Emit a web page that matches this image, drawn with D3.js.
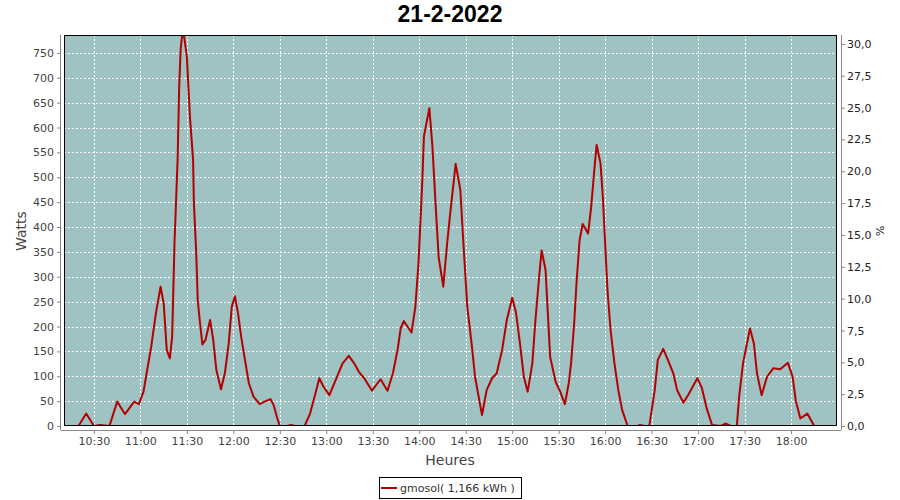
<!DOCTYPE html>
<html><head><meta charset="utf-8">
<script src="https://cdn.jsdelivr.net/npm/d3@7"></script>
<style>body{margin:0;background:#fff}svg{display:block}</style>
</head><body>
<svg id="c" width="900" height="500"></svg>
<script>
const title = "21-2-2022";
const seriesName = "gmosol( 1,166 kWh )";
const times = ["10:20:00","10:25:00","10:30:00","10:34:00","10:40:00","10:45:00","10:50:00","10:56:00","10:59:00","11:02:00",
"11:04:00","11:07:00","11:10:00","11:13:00","11:15:00","11:17:00","11:19:00","11:20:30","11:22:00","11:24:00",
"11:25:00","11:26:00","11:27:30","11:30:00","11:31:00","11:32:00","11:34:00","11:34:30","11:36:00","11:37:00",
"11:38:30","11:40:00","11:42:00","11:45:00","11:47:00","11:49:00","11:52:00","11:54:30","11:57:00","11:59:00",
"12:01:00","12:03:00","12:05:00","12:07:30","12:10:00","12:13:00","12:17:00","12:20:00","12:24:00","12:26:00",
"12:28:00","12:30:00","12:35:00","12:37:00","12:40:00","12:46:00","12:49:30","12:53:00","12:55:30","12:58:00",
"13:02:00","13:06:00","13:10:30","13:14:30","13:18:00","13:21:00","13:24:30","13:29:30","13:35:00","13:39:30",
"13:43:00","13:46:00","13:48:00","13:50:00","13:55:00","13:57:30","13:59:30","14:02:00","14:03:00","14:06:30",
"14:08:30","14:10:30","14:12:30","14:15:30","14:18:00","14:20:00","14:23:30","14:26:30","14:28:30","14:31:00",
"14:34:00","14:36:00","14:40:30","14:43:30","14:47:00","14:50:00","14:53:30","14:56:30","15:00:00","15:02:30",
"15:05:00","15:07:30","15:10:00","15:13:00","15:15:00","15:17:30","15:19:00","15:21:30","15:23:00","15:24:30",
"15:28:00","15:31:00","15:34:00","15:36:30","15:38:00","15:40:00","15:41:30","15:43:30","15:45:30","15:49:00",
"15:51:00","15:53:00","15:54:30","15:57:00","15:58:30","16:00:00","16:01:30","16:03:30","16:06:00","16:08:30",
"16:11:00","16:14:30","16:21:00","16:22:30","16:25:30","16:28:30","16:32:00","16:34:00","16:37:30","16:40:30",
"16:44:00","16:46:30","16:50:30","16:53:30","16:59:30","17:02:30","17:05:30","17:09:00","17:14:30","17:18:00",
"17:21:00","17:25:00","17:26:30","17:29:00","17:33:30","17:36:00","17:38:00","17:41:00","17:44:30","17:48:30",
"17:53:00","17:58:00","18:01:00","18:03:00","18:06:00","18:10:30","18:15:00","18:20:00"];
const watts = [0,25,0,2,0,49,24,49,44,69,
106,160,227,280,247,153,136,180,368,535,
679,759,800,742,680,620,535,450,350,253,
206,164,173,213,173,113,74,106,166,240,
261,227,180,133,86,59,44,49,54,42,
19,0,0,2,0,0,25,66,96,80,
62,92,126,141,126,109,96,71,94,71,
106,153,196,211,188,240,327,495,582,639,
562,448,340,280,367,428,527,475,367,240,
160,99,22,72,96,106,153,213,258,227,
166,99,69,126,213,304,353,314,227,139,
89,69,44,86,126,206,287,374,406,387,
441,515,565,528,461,367,273,193,126,72,
32,0,0,2,0,0,72,133,155,133,
106,72,47,62,96,76,36,2,0,5,
0,0,59,126,196,166,106,62,99,116,
114,127,99,52,15,25,0,0];
const xTickLabels = ["10:30","11:00","11:30","12:00","12:30","13:00","13:30","14:00","14:30","15:00","15:30","16:00","16:30","17:00","17:30","18:00"];
const wattTicks = [0,50,100,150,200,250,300,350,400,450,500,550,600,650,700,750];
const pctTicks = [0,2.5,5,7.5,10,12.5,15,17.5,20,22.5,25,27.5,30];

const W = 900, H = 500;
const m = {left:64, top:35, right:63, bottom:74};
const pw = W - m.left - m.right, ph = H - m.top - m.bottom;
const parse = d3.timeParse("%H:%M:%S");
const parseHM = d3.timeParse("%H:%M");
const data = times.map((t,i)=>({t:parse(t), v:watts[i]}));

const x = d3.scaleTime().domain([parse("10:10:40"), parse("18:29:40")]).range([m.left, m.left+pw]);
const y = d3.scaleLinear().domain([0, 786]).range([m.top+ph, m.top]);
const yr = d3.scaleLinear().domain([0, 30.7]).range([m.top+ph, m.top]);

const svg = d3.select("#c");
const F = "'DejaVu Sans', sans-serif";

svg.append("text").attr("x", 450).attr("y", 22).attr("text-anchor","middle")
  .attr("font-family","'Liberation Sans', Arial, sans-serif").attr("font-weight","bold").attr("font-size",23)
  .attr("fill","#000").text(title);

svg.append("rect").attr("x", m.left).attr("y", m.top).attr("width", pw).attr("height", ph).attr("fill", "#9EC3C2");

const xTicks = xTickLabels.map(s=>parseHM(s));
const g = svg.append("g");
g.selectAll("line.v").data(xTicks).join("line")
  .attr("x1", d=>Math.round(x(d))+0.5).attr("x2", d=>Math.round(x(d))+0.5)
  .attr("y1", m.top).attr("y2", m.top+ph)
  .attr("stroke","#fff").attr("stroke-width",1).attr("stroke-dasharray","2,2");
g.selectAll("line.h").data(wattTicks.filter(d=>d>0)).join("line")
  .attr("y1", d=>Math.round(y(d))+0.5).attr("y2", d=>Math.round(y(d))+0.5)
  .attr("x1", m.left).attr("x2", m.left+pw)
  .attr("stroke","#fff").attr("stroke-width",1).attr("stroke-dasharray","2,2");

svg.append("clipPath").attr("id","clip").append("rect")
  .attr("x", m.left).attr("y", m.top).attr("width", pw).attr("height", ph);

const line = d3.line().x(d=>x(d.t)).y(d=>y(d.v));
svg.append("path").datum(data).attr("d", line).attr("clip-path","url(#clip)")
  .attr("fill","none").attr("stroke","#B40000").attr("stroke-width",2).attr("stroke-linejoin","round");

svg.append("rect").attr("x", m.left+0.5).attr("y", m.top+0.5).attr("width", pw-1).attr("height", ph-1)
  .attr("fill","none").attr("stroke","#000").attr("stroke-width",1);

const ax = svg.append("g").attr("transform", `translate(0,${m.top+ph+4})`)
  .call(d3.axisBottom(x).tickValues(xTicks).tickFormat(d3.timeFormat("%H:%M")).tickSizeOuter(0).tickSize(4).tickPadding(3));
const ay = svg.append("g").attr("transform", `translate(${m.left-3},0)`)
  .call(d3.axisLeft(y).tickValues(wattTicks).tickSizeOuter(0).tickSize(4).tickPadding(3));
const ayr = svg.append("g").attr("transform", `translate(${m.left+pw+4},0)`)
  .call(d3.axisRight(yr).tickValues(pctTicks).tickFormat(d=>d3.format(".1f")(d).replace(".",",")).tickSizeOuter(0).tickSize(4).tickPadding(2));
[ax,ay,ayr].forEach(a=>{
  a.select(".domain").attr("stroke","#888");
  a.selectAll(".tick line").attr("stroke","#888");
  a.selectAll("text").attr("font-family",F).attr("font-size",11).attr("fill","#444");
});
ax.select(".domain").attr("d", `M${m.left-3},0.5H${m.left+pw+4}`);
ay.select(".domain").attr("d", `M-0.5,${m.top}V${m.top+ph+4}`);
ayr.select(".domain").attr("d", `M0.5,${m.top}V${m.top+ph+4}`);
ayr.selectAll("text").attr("fill","#222");

svg.append("text").attr("x", 450).attr("y", 465).attr("text-anchor","middle")
  .attr("font-family",F).attr("font-size",14).attr("fill","#444").text("Heures");
svg.append("text").attr("transform","translate(26,231) rotate(-90)").attr("text-anchor","middle")
  .attr("font-family",F).attr("font-size",14).attr("fill","#444").text("Watts");
svg.append("text").attr("transform","translate(876,231) rotate(90)").attr("text-anchor","middle")
  .attr("font-family",F).attr("font-size",11).attr("fill","#222").text("%");

const lg = svg.append("g");
lg.append("rect").attr("x",379.5).attr("y",477.5).attr("width",142).attr("height",21)
  .attr("fill","#fff").attr("stroke","#000");
lg.append("line").attr("x1",381).attr("x2",397).attr("y1",488).attr("y2",488)
  .attr("stroke","#B40000").attr("stroke-width",2);
lg.append("text").attr("x",400).attr("y",492).attr("font-family",F).attr("font-size",11)
  .attr("fill","#333").text(seriesName);
</script>
</body></html>
